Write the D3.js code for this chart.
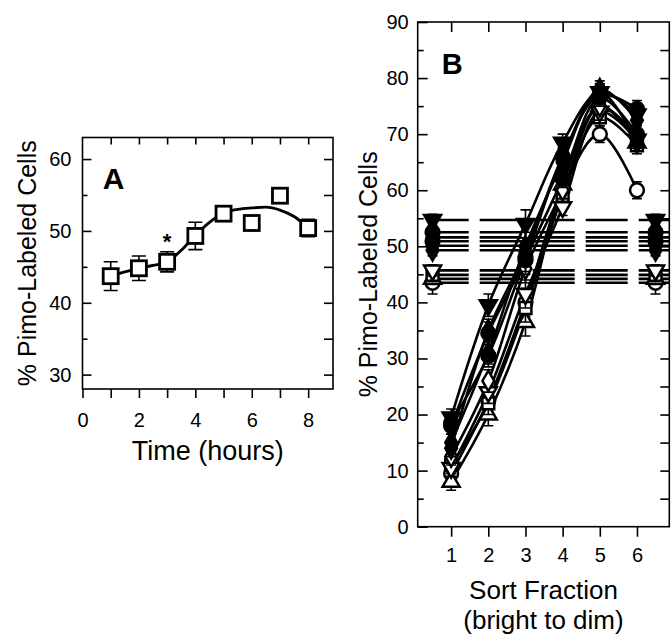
<!DOCTYPE html>
<html>
<head>
<meta charset="utf-8">
<script src="https://cdn.jsdelivr.net/npm/d3@7"></script>
<style>
  body { margin: 0; background: #fff; }
  text { font-family: "Liberation Sans", Arial, sans-serif; fill: #000; }
</style>
</head>
<body>
<svg id="chart" width="671" height="636"></svg>
<script>
// ---- panel A data
const hours = [1, 2, 3, 4, 5, 6, 7, 8];
const pimoA = [43.7, 44.8, 45.7, 49.3, 52.4, 51.1, 54.9, 50.4];
const errA = [2.0, 1.7, 1.4, 1.9, 0.5, 0.5, 0.5, 1.2];
// fitted curve
const fitHours = [1, 1.5, 2, 2.5, 3, 3.5, 4, 4.5, 5, 5.5, 6, 6.5, 7, 7.5, 8];
const fitA = [43.7, 44.3, 44.8, 45.2, 45.7, 47.3, 49.4, 51.2, 52.5, 53.0, 53.2, 53.3, 52.9, 52.0, 50.4];
const starHour = 3;

// ---- panel B data
const fractions = [1, 2, 3, 4, 5, 6];
const ctrlPos = [0.5, 6.5];
const b1 = [19.5, 39.5, 54.0, 68.5, 77.5, 73.5];
const b2 = [18.0, 34.5, 48.0, 66.0, 77.0, 74.5];
const b3 = [15.0, 31.0, 50.0, 65.0, 78.0, 72.5];
const b4 = [18.5, 30.5, 47.5, 62.0, 76.5, 70.0];
const b5 = [14.0, 35.0, 49.0, 66.0, 77.5, 68.5];
const b6 = [12.5, 26.0, 46.0, 60.0, 75.0, 69.5];
const b7 = [10.5, 24.0, 41.5, 57.0, 74.0, 69.0];
const b8 = [11.0, 22.0, 39.0, 59.0, 73.0, 68.0];
const b9 = [8.0, 20.0, 36.5, 61.0, 75.0, 68.5];
const b10 = [9.5, 22.5, 40.0, 60.0, 70.0, 60.0];
const errB = [1.5, 2.0, 2.5, 1.5, 1.5, 1.5];
const controls = [54.7, 52.5, 51.6, 50.9, 50.1, 49.3, 45.7, 44.9, 44.2, 43.5];
const ctrlErr = [1.0, 1.0, 1.0, 1.0, 1.0, 1.0, 1.0, 1.0, 1.0, 2.0];

// marker styles for the ten series
const shapes = ["triDown", "circle", "diamond", "circle", "diamond", "diamond", "triDown", "square", "triUp", "circle"];
const filled = [true, true, true, true, true, false, false, false, false, false];

const svg = d3.select("#chart");

function marker(sel, shape, fill) {
  const sym = {
    circle: d3.symbol(d3.symbolCircle, 150),
    square: d3.symbol(d3.symbolSquare, 140),
    diamond: d3.symbol(d3.symbolDiamond, 120),
    triUp: d3.symbol(d3.symbolTriangle, 125),
    triDown: d3.symbol(d3.symbolTriangle, 125)
  }[shape];
  sel.append("path")
    .attr("d", sym)
    .attr("transform", shape === "triDown" ? "rotate(180)" : null)
    .attr("fill", fill ? "#000" : "#fff")
    .attr("stroke", "#000")
    .attr("stroke-width", 2.5);
}

function errorBars(g, pts, x, y, cap) {
  g.selectAll(null).data(pts).enter().append("path")
    .attr("d", d => {
      const cx = x(d.x), y0 = y(d.y - d.e), y1 = y(d.y + d.e);
      return `M${cx},${y0}V${y1}M${cx - cap},${y0}H${cx + cap}M${cx - cap},${y1}H${cx + cap}`;
    })
    .attr("stroke", "#000").attr("stroke-width", 1.6).attr("fill", "none");
}

function frame(g, x, y) {
  g.append("rect")
    .attr("x", x.range()[0]).attr("y", y.range()[1])
    .attr("width", x.range()[1] - x.range()[0])
    .attr("height", y.range()[0] - y.range()[1])
    .attr("fill", "none").attr("stroke", "#000").attr("stroke-width", 1.6);
}

function styleAxis(g, fs) {
  g.select(".domain").remove();
  g.selectAll("line").attr("stroke", "#000").attr("stroke-width", 1.6);
  g.selectAll("text").attr("font-size", fs).attr("fill", "#000").style("font-family", '"Liberation Sans", Arial, sans-serif');
}

// ================= Panel A
{
  const x = d3.scaleLinear().domain([0, 8.88]).range([82.5, 333]);
  const y = d3.scaleLinear().domain([28, 63]).range([389, 137.5]);
  const g = svg.append("g");

  g.append("g").attr("transform", `translate(0,${y.range()[0]})`)
    .call(d3.axisBottom(x).tickValues(d3.range(0, 9)).tickFormat(d => d % 2 === 0 ? d : "")
      .tickSizeInner(9).tickSizeOuter(0).tickPadding(15))
    .call(a => styleAxis(a, 20));
  g.append("g").attr("transform", `translate(0,${y.range()[1]})`)
    .call(d3.axisTop(x).tickValues(d3.range(1, 9)).tickFormat("").tickSizeInner(-7).tickSizeOuter(0))
    .call(a => styleAxis(a, 20));
  g.append("g").attr("transform", `translate(${x.range()[0]},0)`)
    .call(d3.axisLeft(y).tickValues([30, 40, 50, 60]).tickSizeInner(-9).tickSizeOuter(0).tickPadding(11))
    .call(a => styleAxis(a, 20));
  g.append("g").attr("transform", `translate(${x.range()[0]},0)`)
    .call(d3.axisLeft(y).tickValues([35, 45, 55]).tickFormat("").tickSizeInner(-5).tickSizeOuter(0))
    .call(a => styleAxis(a, 20));
  g.append("g").attr("transform", `translate(${x.range()[1]},0)`)
    .call(d3.axisRight(y).tickValues([30, 35, 40, 45, 50, 55, 60]).tickFormat("").tickSizeInner(-9).tickSizeOuter(0))
    .call(a => styleAxis(a, 20));
  frame(g, x, y);

  g.append("path")
    .datum(fitHours.map((h, i) => [h, fitA[i]]))
    .attr("d", d3.line().x(d => x(d[0])).y(d => y(d[1])).curve(d3.curveMonotoneX))
    .attr("fill", "none").attr("stroke", "#000").attr("stroke-width", 2.8);

  errorBars(g, hours.map((h, i) => ({ x: h, y: pimoA[i], e: errA[i] })), x, y, 7);

  g.selectAll(null).data(hours).enter().append("rect")
    .attr("x", d => x(d) - 7.5).attr("y", (d, i) => y(pimoA[i]) - 7.5)
    .attr("width", 15).attr("height", 15)
    .attr("fill", "#fff").attr("stroke", "#000").attr("stroke-width", 2.8);

  g.append("text").attr("x", x(starHour)).attr("y", y(pimoA[2] + errA[2]) - 3)
    .attr("text-anchor", "middle").attr("font-size", 22).attr("font-weight", "bold").text("*");

  g.append("text").attr("x", x(0.72)).attr("y", y(55.8))
    .attr("font-size", 30).attr("font-weight", "bold").text("A");

  g.append("text").attr("x", (x.range()[0] + x.range()[1]) / 2).attr("y", 460)
    .attr("text-anchor", "middle").attr("font-size", 27).text("Time (hours)");
  g.append("text")
    .attr("transform", `translate(36,${(y.range()[0] + y.range()[1]) / 2}) rotate(-90)`)
    .attr("text-anchor", "middle").attr("font-size", 25).text("% Pimo-Labeled Cells");
}

// ================= Panel B
{
  const x = d3.scaleLinear().domain([0.1, 6.87]).range([417.7, 669.3]);
  const y = d3.scaleLinear().domain([0, 90]).range([526.7, 22]);
  const g = svg.append("g");

  g.append("g").attr("transform", `translate(0,${y.range()[0]})`)
    .call(d3.axisBottom(x).tickValues(fractions).tickFormat(d3.format("d"))
      .tickSizeInner(10).tickSizeOuter(0).tickPadding(11))
    .call(a => styleAxis(a, 20));
  g.append("g").attr("transform", `translate(0,${y.range()[1]})`)
    .call(d3.axisTop(x).tickValues(fractions).tickFormat("").tickSizeInner(-10).tickSizeOuter(0))
    .call(a => styleAxis(a, 20));
  g.append("g").attr("transform", `translate(${x.range()[0]},0)`)
    .call(d3.axisLeft(y).tickValues(d3.range(0, 91, 10)).tickSizeInner(-10).tickSizeOuter(0).tickPadding(9))
    .call(a => styleAxis(a, 20));
  g.append("g").attr("transform", `translate(${x.range()[0]},0)`)
    .call(d3.axisLeft(y).tickValues(d3.range(5, 90, 10)).tickFormat("").tickSizeInner(-6).tickSizeOuter(0))
    .call(a => styleAxis(a, 20));
  g.append("g").attr("transform", `translate(${x.range()[1]},0)`)
    .call(d3.axisRight(y).tickValues(d3.range(5, 90, 5)).tickFormat("").tickSizeInner(-9).tickSizeOuter(0))
    .call(a => styleAxis(a, 20));
  frame(g, x, y);

  const series = [b1, b2, b3, b4, b5, b6, b7, b8, b9, b10];

  // dashed control levels
  g.selectAll(null).data(controls).enter().append("line")
    .attr("x1", x.range()[0]).attr("x2", x.range()[1])
    .attr("y1", d => y(d)).attr("y2", d => y(d))
    .attr("stroke", "#000").attr("stroke-width", 2.6)
    .attr("stroke-dasharray", "42,11").attr("stroke-dashoffset", 44);

  const line = d3.line().x(d => x(d[0])).y(d => y(d[1])).curve(d3.curveCatmullRom.alpha(0.5));
  series.forEach(vals => {
    g.append("path").datum(fractions.map((f, i) => [f, vals[i]]))
      .attr("d", line).attr("fill", "none").attr("stroke", "#000").attr("stroke-width", 2.6);
  });

  // draw open series first so filled ones sit on top
  const order = d3.range(series.length).reverse();
  order.forEach(k => {
    const pts = fractions.map((f, i) => ({ x: f, y: series[k][i], e: errB[i] }))
      .concat(ctrlPos.map(p => ({ x: p, y: controls[k], e: ctrlErr[k] })));
    errorBars(g, pts, x, y, 5);
    pts.forEach(p => {
      g.append("g").attr("transform", `translate(${x(p.x)},${y(p.y)})`)
        .call(s => marker(s, shapes[k], filled[k]));
    });
  });

  g.append("text").attr("x", x(0.75)).attr("y", y(80.8))
    .attr("font-size", 29).attr("font-weight", "bold").text("B");

  const cx = (x.range()[0] + x.range()[1]) / 2;
  g.append("text").attr("x", cx).attr("y", 599).attr("text-anchor", "middle").attr("font-size", 26).text("Sort Fraction");
  g.append("text").attr("x", cx).attr("y", 629).attr("text-anchor", "middle").attr("font-size", 26).text("(bright to dim)");
  g.append("text")
    .attr("transform", `translate(377,${(y.range()[0] + y.range()[1]) / 2}) rotate(-90)`)
    .attr("text-anchor", "middle").attr("font-size", 25).text("% Pimo-Labeled Cells");
}
</script>
</body>
</html>
